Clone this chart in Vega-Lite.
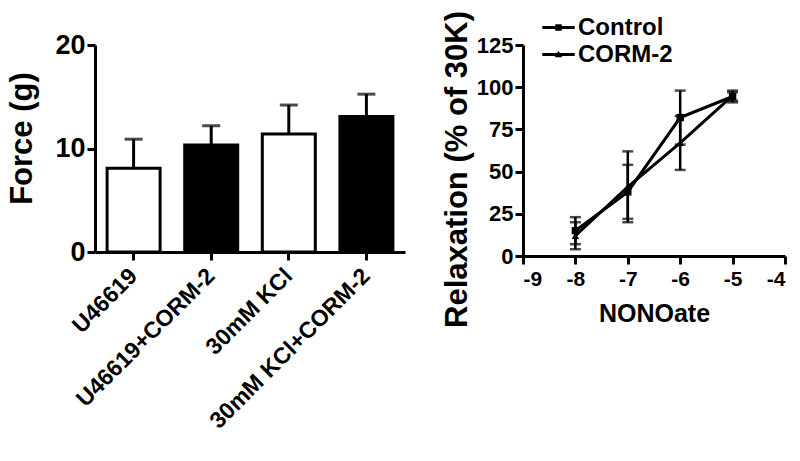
{
  "$schema": "https://vega.github.io/schema/vega-lite/v6.json",
  "padding": {"left": 6, "top": 10, "right": 0, "bottom": 0},
  "background": "white",
  "spacing": 36,
  "config": {
    "font": "Liberation Sans",
    "view": {"stroke": null},
    "axis": {
      "grid": false,
      "domainColor": "black",
      "domainWidth": 3,
      "tickColor": "black",
      "tickWidth": 3,
      "tickSize": 8,
      "labelColor": "black",
      "titleColor": "black",
      "labelFontWeight": "bold",
      "titleFontWeight": "bold",
      "labelFont": "Liberation Sans",
      "titleFont": "Liberation Sans"
    }
  },
  "hconcat": [
    {
      "width": 310,
      "height": 207,
      "data": {
        "values": [
          {"group": "U46619", "force": 8.1, "upper": 10.9, "treat": "none"},
          {"group": "U46619+CORM-2", "force": 10.35, "upper": 12.2, "treat": "CORM-2"},
          {"group": "30mM KCl", "force": 11.4, "upper": 14.2, "treat": "none"},
          {"group": "30mM KCl+CORM-2", "force": 13.1, "upper": 15.25, "treat": "CORM-2"}
        ]
      },
      "encoding": {
        "x": {
          "field": "group",
          "type": "nominal",
          "sort": null,
          "scale": {"paddingInner": 0.317, "paddingOuter": 0.156},
          "axis": {
            "title": null,
            "labelAngle": -45,
            "labelFontSize": 23,
            "labelPadding": 12,
            "labelLimit": 400,
            "labelAlign": "right",
            "labelBaseline": "middle"
          }
        }
      },
      "layer": [
        {
          "mark": {"type": "bar", "stroke": "black", "strokeWidth": 3},
          "encoding": {
            "y": {
              "field": "force",
              "type": "quantitative",
              "scale": {"domain": [0, 20], "nice": false},
              "axis": {
                "title": "Force (g)",
                "values": [0, 10, 20],
                "labelFontSize": 27,
                "titleFontSize": 31,
                "titlePadding": 16,
                "labelPadding": 2,
                "titleY": 93
              }
            },
            "fill": {
              "field": "treat",
              "type": "nominal",
              "scale": {"domain": ["none", "CORM-2"], "range": ["white", "black"]},
              "legend": null
            }
          }
        },
        {
          "mark": {"type": "rule", "strokeWidth": 3, "color": "black"},
          "encoding": {
            "y": {"field": "force", "type": "quantitative"},
            "y2": {"field": "upper"}
          }
        },
        {
          "mark": {"type": "tick", "thickness": 3, "size": 18, "color": "black", "orient": "horizontal"},
          "encoding": {
            "y": {"field": "upper", "type": "quantitative"}
          }
        }
      ]
    },
    {
      "width": 262,
      "height": 211,
      "data": {
        "values": [
          {"series": "Control", "x": -8, "y": 15, "lo": 7, "hi": 23},
          {"series": "Control", "x": -7, "y": 38, "lo": 22, "hi": 54},
          {"series": "Control", "x": -6, "y": 82, "lo": 66, "hi": 98},
          {"series": "Control", "x": -5, "y": 94.5, "lo": 91, "hi": 98},
          {"series": "CORM-2", "x": -8, "y": 12, "lo": 4, "hi": 20},
          {"series": "CORM-2", "x": -7, "y": 41, "lo": 20, "hi": 62},
          {"series": "CORM-2", "x": -6, "y": 67, "lo": 51, "hi": 83},
          {"series": "CORM-2", "x": -5, "y": 95, "lo": 92, "hi": 97}
        ]
      },
      "resolve": {"scale": {"shape": "independent"}},
      "encoding": {
        "x": {
          "field": "x",
          "type": "quantitative",
          "scale": {"domain": [-9, -4], "nice": false, "zero": false},
          "axis": {
            "title": "NONOate",
            "values": [-9, -8, -7, -6, -5, -4],
            "labelExpr": "'' + datum.value",
            "labelFontSize": 21,
            "titleFontSize": 25,
            "labelPadding": 4,
            "titlePadding": 12
          }
        }
      },
      "layer": [
        {
          "mark": {"type": "rule", "strokeWidth": 2.5, "color": "black"},
          "encoding": {
            "y": {
              "field": "lo",
              "type": "quantitative",
              "scale": {"domain": [0, 125], "nice": false},
              "axis": {
                "title": "Relaxation (% of 30K)",
                "values": [0, 25, 50, 75, 100, 125],
                "labelFontSize": 22,
                "titleFontSize": 31,
                "titlePadding": 3,
                "labelPadding": 2,
                "titleY": 124
              }
            },
            "y2": {"field": "hi"},
            "detail": {"field": "series"}
          }
        },
        {
          "mark": {"type": "tick", "thickness": 2.5, "size": 11, "color": "black", "orient": "horizontal"},
          "encoding": {
            "y": {"field": "lo", "type": "quantitative"},
            "detail": {"field": "series"}
          }
        },
        {
          "mark": {"type": "tick", "thickness": 2.5, "size": 11, "color": "black", "orient": "horizontal"},
          "encoding": {
            "y": {"field": "hi", "type": "quantitative"},
            "detail": {"field": "series"}
          }
        },
        {
          "mark": {"type": "line", "strokeWidth": 3, "color": "black"},
          "encoding": {
            "y": {"field": "y", "type": "quantitative"},
            "detail": {"field": "series"}
          }
        },
        {
          "mark": {"type": "point", "filled": true, "color": "black", "opacity": 1, "size": 55},
          "encoding": {
            "y": {"field": "y", "type": "quantitative"},
            "shape": {
              "field": "series",
              "type": "nominal",
              "scale": {"domain": ["Control", "CORM-2"], "range": ["square", "triangle-up"]},
              "legend": null
            }
          }
        },
        {
          "mark": {"type": "point", "filled": true, "color": "black", "opacity": 0, "size": 729},
          "encoding": {
            "y": {"field": "y", "type": "quantitative"},
            "shape": {
              "field": "series",
              "type": "nominal",
              "scale": {
                "domain": ["Control", "CORM-2"],
                "range": ["M-1.2,-0.11H1.2V0.11H-1.2ZM-0.24,-0.24H0.24V0.24H-0.24Z", "M-1.2,-0.11H1.2V0.11H-1.2ZM0,-0.28L0.28,0.2H-0.28Z"]
              },
              "legend": {
                "title": null,
                "orient": "none",
                "legendX": 21,
                "legendY": -32,
                "labelFontSize": 24,
                "labelFontWeight": "bold",
                "labelColor": "black",
                "labelOffset": 5,
                "symbolSize": 729,
                "symbolOpacity": 1,
                "symbolFillColor": "black",
                "rowPadding": 0,
                "encode": {
                  "symbols": {
                    "opacity": {"value": 1},
                    "fill": {"value": "black"}
                  }
                }
              }
            }
          }
        }
      ]
    }
  ]
}
